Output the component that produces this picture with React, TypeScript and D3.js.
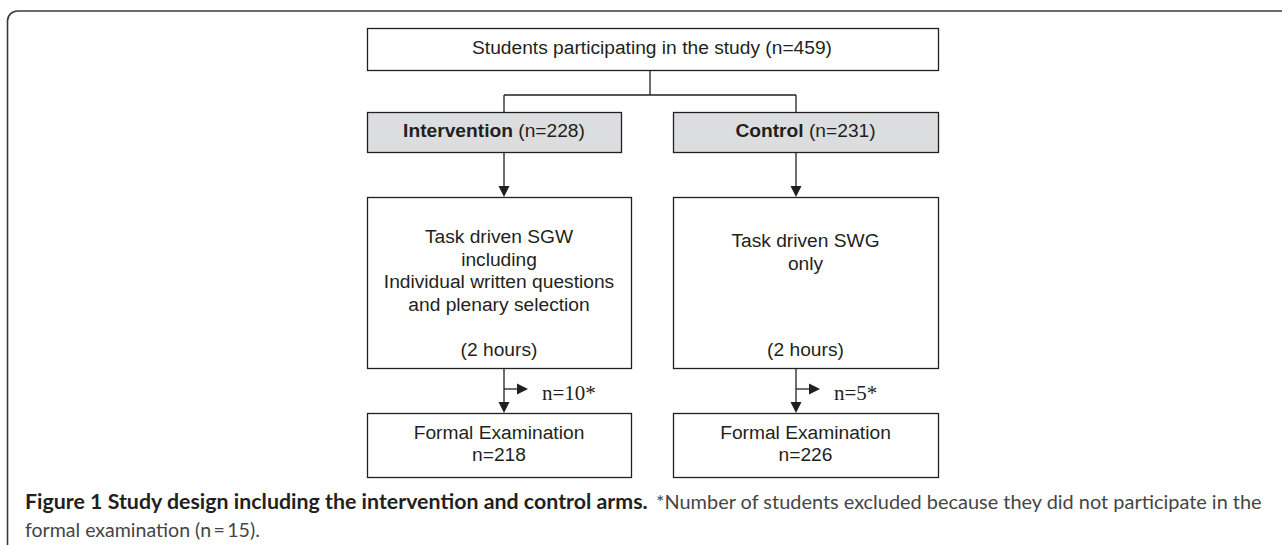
import React, { useEffect, useRef } from "react";
import * as d3 from "d3";

// flowchart content
const totalN = 459;
const arms = ["Intervention", "Control"];
const armN = [228, 231];
const taskLines = [
  ["Task driven SGW", "including", "Individual written questions", "and plenary selection"],
  ["Task driven SWG", "only"],
];
const duration = ["(2 hours)", "(2 hours)"];
const excluded = [10, 5];
const examined = [218, 226];
const captionBold = "Figure 1 Study design including the intervention and control arms.";
const captionRest = "*Number of students excluded because they did not participate in the";
const captionLine2 = "formal examination (n\u2009=\u200915).";

const W = 1282;
const H = 545;
const INK = "#231f20";
const SANS = "'Liberation Sans', Arial, sans-serif";
const CAP_FONT = "Lato, 'Open Sans', sans-serif";

const App = () => {
  const svgRef = useRef<SVGSVGElement | null>(null);

  useEffect(() => {
    const svg = d3.select(svgRef.current).attr("width", W).attr("height", H);
    svg.selectAll("*").remove();

    // horizontal position of each arm's flow line
    const armX = d3.scalePoint<string>().domain(arms).range([504, 796]);
    // box extents per arm
    const headBox = [[367, 621], [673, 938]];
    const bodyBox = [[367, 631], [673, 938]];
    // vertical layout of the rows
    const row = d3.scaleOrdinal<string, number[]>()
      .domain(["top", "arm", "task", "exam"])
      .range([[28, 70], [112, 152], [197, 368], [413, 477]]);
    const splitY = 95;
    const exitY = 389;

    // outer frame, rounded top-left corner
    svg.append("path")
      .attr("d", `M7.5,${H} V21 A10,10 0 0 1 17.5,11 H${W}`)
      .attr("fill", "none")
      .attr("stroke", "#3a3a3a")
      .attr("stroke-width", 1.6);

    const g = svg.append("g");

    const box = (x0: number, x1: number, ys: number[], fill = "#fff") =>
      g.append("rect")
        .attr("x", x0 + 0.5)
        .attr("y", ys[0] + 0.5)
        .attr("width", x1 - x0)
        .attr("height", ys[1] - ys[0])
        .attr("fill", fill)
        .attr("stroke", INK)
        .attr("stroke-width", 1.3);

    const line = (pts: [number, number][]) =>
      g.append("path")
        .attr("d", d3.line()(pts))
        .attr("fill", "none")
        .attr("stroke", INK)
        .attr("stroke-width", 1.3);

    const headDown = (x: number, y: number) =>
      g.append("path")
        .attr("d", `M${x - 5.5},${y - 11} L${x + 5.5},${y - 11} L${x},${y} Z`)
        .attr("fill", INK);

    const headRight = (x: number, y: number) =>
      g.append("path")
        .attr("d", `M${x - 11},${y - 5.5} L${x - 11},${y + 5.5} L${x},${y} Z`)
        .attr("fill", INK);

    const label = (x: number, y: number, t: string, size = 19.2, family = SANS) =>
      g.append("text")
        .attr("x", x)
        .attr("y", y)
        .attr("text-anchor", "middle")
        .attr("font-family", family)
        .attr("font-size", size)
        .attr("fill", INK)
        .text(t);

    // top box
    const top = row("top");
    box(367, 938, top);
    label(652, 54, `Students participating in the study (n=${totalN})`);

    // split connector
    const midX = (armX(arms[0])! + armX(arms[1])!) / 2;
    line([[midX, top[1]], [midX, splitY]]);
    line([[armX(arms[0])!, splitY], [armX(arms[1])!, splitY]]);

    arms.forEach((a, i) => {
      const x = armX(a)!;
      const ra = row("arm");
      const rt = row("task");
      const re = row("exam");

      line([[x, splitY], [x, ra[0]]]);

      // arm header box
      box(headBox[i][0], headBox[i][1], ra, "#dcdddf");
      const cx = (headBox[i][0] + headBox[i][1]) / 2;
      const t = label(cx, 137, "");
      t.append("tspan").attr("font-weight", "bold").text(a);
      t.append("tspan").text(` (n=${armN[i]})`);

      // arrow to task box
      line([[x, ra[1]], [x, rt[0] - 6]]);
      headDown(x, rt[0]);

      // task box
      box(bodyBox[i][0], bodyBox[i][1], rt);
      const bx = (bodyBox[i][0] + bodyBox[i][1]) / 2;
      const firstY = i === 0 ? 243 : 247;
      taskLines[i].forEach((s, j) => label(bx, firstY + j * 22.6, s));
      label(bx, 356, duration[i]);

      // exclusion arrow and flow to exam
      line([[x, rt[1]], [x, re[0] - 6]]);
      headDown(x, re[0]);
      line([[x, exitY], [x + 16, exitY]]);
      headRight(x + 24, exitY);
      g.append("text")
        .attr("x", x + 38)
        .attr("y", exitY + 11)
        .attr("font-family", "'Liberation Serif', 'Times New Roman', serif")
        .attr("font-size", 21)
        .attr("fill", INK)
        .text(`n=${excluded[i]}*`);

      // exam box
      box(bodyBox[i][0], bodyBox[i][1], re);
      label(bx, 439, "Formal Examination");
      label(bx, 461, `n=${examined[i]}`);
    });

    // caption, squeezed to the condensed widths of the original
    const capText = (s: string, bold: boolean) =>
      svg.append("text")
        .attr("font-family", CAP_FONT)
        .attr("font-size", 20)
        .attr("font-weight", bold ? "bold" : "normal")
        .attr("fill", bold ? INK : "#454545")
        .text(s);

    const fit = (sel: any, x: number, y: number, width: number) => {
      const w = (sel.node() as SVGTextElement).getComputedTextLength();
      const k = w > 0 ? width / w : 1;
      sel.attr("transform", `translate(${x},${y}) scale(${k},1)`);
    };
    fit(capText(captionBold, true), 25, 509, 623);
    fit(capText(captionRest, false), 656, 509, 606);
    fit(capText(captionLine2, false), 25, 537, 235);
  }, []);

  return (
    <svg
      ref={svgRef}
      style={{ position: "absolute", left: 0, top: 0, display: "block", background: "#fff" }}
    ></svg>
  );
};

export default App;
